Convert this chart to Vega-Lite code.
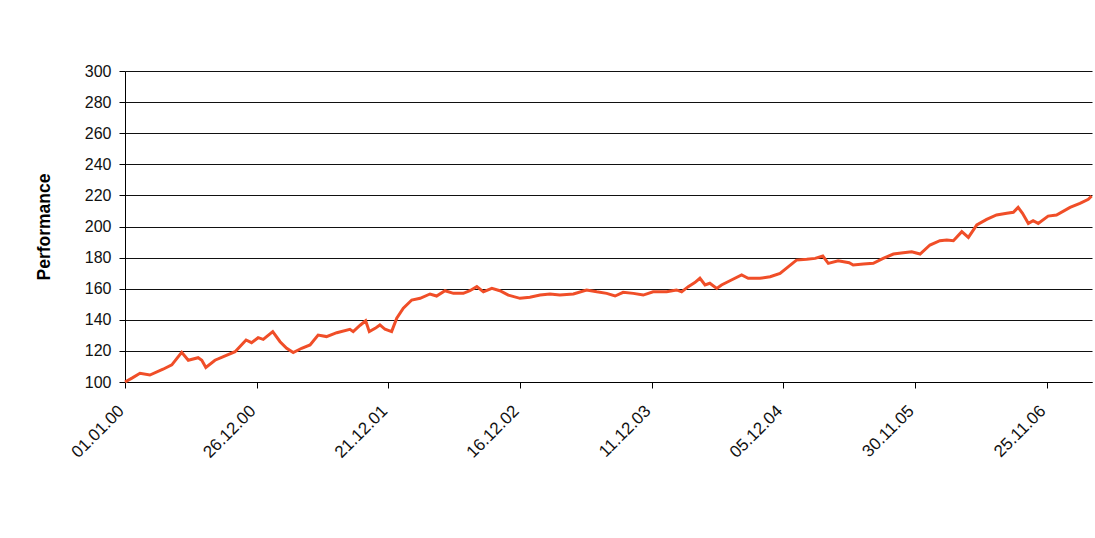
{
  "$schema": "https://vega.github.io/schema/vega-lite/v6.json",
  "width": 967,
  "height": 311,
  "autosize": {"type": "none"},
  "padding": {"left": 125, "top": 71, "right": 3, "bottom": 156},
  "background": "#ffffff",
  "config": {
    "view": {"stroke": null},
    "font": "Liberation Sans",
    "axis": {
      "labelFont": "Liberation Sans",
      "titleFont": "Liberation Sans",
      "labelColor": "#111111",
      "titleColor": "#000000",
      "domainColor": "#000000",
      "tickColor": "#000000",
      "gridColor": "#111111",
      "gridOpacity": 1,
      "domainWidth": 1,
      "tickWidth": 1,
      "gridWidth": 1
    }
  },
  "data": {
    "values": [
      {"date": "2000-01-01", "perf": 100.0},
      {"date": "2000-01-20", "perf": 102.5},
      {"date": "2000-02-11", "perf": 105.6},
      {"date": "2000-03-09", "perf": 104.5},
      {"date": "2000-04-14", "perf": 108.2},
      {"date": "2000-05-08", "perf": 111.0},
      {"date": "2000-06-04", "perf": 119.1},
      {"date": "2000-06-22", "perf": 114.0},
      {"date": "2000-07-19", "perf": 115.6},
      {"date": "2000-07-29", "perf": 114.0},
      {"date": "2000-08-09", "perf": 109.4},
      {"date": "2000-09-03", "perf": 114.0},
      {"date": "2000-09-26", "perf": 116.3},
      {"date": "2000-10-28", "perf": 119.5},
      {"date": "2000-11-27", "perf": 127.0},
      {"date": "2000-12-12", "perf": 125.3},
      {"date": "2000-12-30", "perf": 128.5},
      {"date": "2001-01-13", "perf": 127.4},
      {"date": "2001-02-08", "perf": 132.4},
      {"date": "2001-02-28", "perf": 125.9},
      {"date": "2001-03-18", "perf": 121.7},
      {"date": "2001-04-05", "perf": 118.9},
      {"date": "2001-04-28", "perf": 121.7},
      {"date": "2001-05-21", "perf": 123.8},
      {"date": "2001-06-12", "perf": 130.2},
      {"date": "2001-07-05", "perf": 129.2},
      {"date": "2001-08-02", "perf": 131.7},
      {"date": "2001-09-07", "perf": 133.9},
      {"date": "2001-09-16", "perf": 132.4},
      {"date": "2001-10-05", "perf": 136.5},
      {"date": "2001-10-20", "perf": 139.4},
      {"date": "2001-10-30", "perf": 132.4},
      {"date": "2001-11-15", "perf": 134.5},
      {"date": "2001-11-28", "perf": 136.7},
      {"date": "2001-12-12", "perf": 133.9},
      {"date": "2001-12-30", "perf": 132.4},
      {"date": "2002-01-13", "perf": 141.0},
      {"date": "2002-01-31", "perf": 147.4},
      {"date": "2002-02-23", "perf": 152.7},
      {"date": "2002-03-18", "perf": 153.8},
      {"date": "2002-04-14", "perf": 156.6},
      {"date": "2002-05-02", "perf": 155.3},
      {"date": "2002-05-25", "perf": 158.7},
      {"date": "2002-06-17", "perf": 157.0},
      {"date": "2002-07-14", "perf": 157.0},
      {"date": "2002-08-01", "perf": 158.7},
      {"date": "2002-08-20", "perf": 161.3},
      {"date": "2002-09-07", "perf": 158.0},
      {"date": "2002-09-30", "perf": 160.2},
      {"date": "2002-10-22", "perf": 158.7},
      {"date": "2002-11-14", "perf": 155.9},
      {"date": "2002-12-16", "perf": 153.8},
      {"date": "2003-01-12", "perf": 154.5},
      {"date": "2003-02-09", "perf": 155.9},
      {"date": "2003-03-08", "perf": 156.6},
      {"date": "2003-04-04", "perf": 155.9},
      {"date": "2003-05-11", "perf": 156.6},
      {"date": "2003-06-16", "perf": 159.2},
      {"date": "2003-07-14", "perf": 158.0},
      {"date": "2003-08-10", "perf": 157.0},
      {"date": "2003-09-02", "perf": 155.3},
      {"date": "2003-09-24", "perf": 157.7},
      {"date": "2003-10-22", "perf": 157.0},
      {"date": "2003-11-18", "perf": 155.9},
      {"date": "2003-12-15", "perf": 158.0},
      {"date": "2004-01-21", "perf": 158.0},
      {"date": "2004-02-17", "perf": 159.2},
      {"date": "2004-03-02", "perf": 158.0},
      {"date": "2004-03-20", "perf": 161.3},
      {"date": "2004-04-07", "perf": 163.9},
      {"date": "2004-04-21", "perf": 166.7},
      {"date": "2004-05-05", "perf": 162.4},
      {"date": "2004-05-18", "perf": 163.5},
      {"date": "2004-06-06", "perf": 160.2},
      {"date": "2004-06-19", "perf": 162.4},
      {"date": "2004-07-12", "perf": 165.1},
      {"date": "2004-08-13", "perf": 168.8},
      {"date": "2004-08-31", "perf": 166.7},
      {"date": "2004-10-02", "perf": 166.7},
      {"date": "2004-10-30", "perf": 167.7},
      {"date": "2004-11-26", "perf": 169.9},
      {"date": "2004-12-19", "perf": 174.2},
      {"date": "2005-01-10", "perf": 178.4},
      {"date": "2005-02-07", "perf": 178.9},
      {"date": "2005-03-02", "perf": 179.5},
      {"date": "2005-03-23", "perf": 181.0},
      {"date": "2005-04-07", "perf": 176.3},
      {"date": "2005-05-04", "perf": 178.0},
      {"date": "2005-06-03", "perf": 176.7},
      {"date": "2005-06-14", "perf": 175.2},
      {"date": "2005-07-12", "perf": 175.9},
      {"date": "2005-08-08", "perf": 176.3},
      {"date": "2005-09-04", "perf": 179.5},
      {"date": "2005-10-02", "perf": 182.3},
      {"date": "2005-10-29", "perf": 183.1},
      {"date": "2005-11-21", "perf": 183.8},
      {"date": "2005-12-14", "perf": 182.3},
      {"date": "2006-01-10", "perf": 188.1},
      {"date": "2006-02-06", "perf": 190.9},
      {"date": "2006-02-25", "perf": 191.3},
      {"date": "2006-03-15", "perf": 190.9},
      {"date": "2006-04-07", "perf": 196.7},
      {"date": "2006-04-25", "perf": 193.0},
      {"date": "2006-05-18", "perf": 201.0},
      {"date": "2006-06-14", "perf": 204.6},
      {"date": "2006-07-11", "perf": 207.4},
      {"date": "2006-08-08", "perf": 208.5},
      {"date": "2006-08-26", "perf": 209.1},
      {"date": "2006-09-08", "perf": 212.3},
      {"date": "2006-09-20", "perf": 208.5},
      {"date": "2006-10-06", "perf": 202.0},
      {"date": "2006-10-19", "perf": 203.7},
      {"date": "2006-11-02", "perf": 202.0},
      {"date": "2006-11-29", "perf": 206.7},
      {"date": "2006-12-22", "perf": 207.4},
      {"date": "2007-01-28", "perf": 212.3},
      {"date": "2007-02-24", "perf": 214.9},
      {"date": "2007-03-19", "perf": 217.5},
      {"date": "2007-03-28", "perf": 219.6}
    ]
  },
  "mark": {"type": "line", "color": "#F04E28", "strokeWidth": 3, "clip": false},
  "encoding": {
    "x": {
      "field": "date",
      "type": "temporal",
      "scale": {"type": "utc", "domain": [{"year": 2000, "month": 1, "date": 1, "utc": true}, {"year": 2007, "month": 3, "date": 29, "utc": true}], "nice": false},
      "axis": {
        "title": null,
        "grid": false,
        "values": [
          {"year": 2000, "month": 1, "date": 1, "utc": true},
          {"year": 2000, "month": 12, "date": 26, "utc": true},
          {"year": 2001, "month": 12, "date": 21, "utc": true},
          {"year": 2002, "month": 12, "date": 16, "utc": true},
          {"year": 2003, "month": 12, "date": 11, "utc": true},
          {"year": 2004, "month": 12, "date": 5, "utc": true},
          {"year": 2005, "month": 11, "date": 30, "utc": true},
          {"year": 2006, "month": 11, "date": 25, "utc": true}
        ],
        "format": "%d.%m.%y",
        "labelAngle": -45,
        "labelAlign": "right",
        "labelBaseline": "middle",
        "labelFontSize": 17,
        "tickSize": 6,
        "labelPadding": 20,
        "labelOffset": -4,
        "labelOverlap": false,
        "labelFlush": false
      }
    },
    "y": {
      "field": "perf",
      "type": "quantitative",
      "scale": {"domain": [100, 300], "nice": false, "zero": false},
      "axis": {
        "title": "Performance",
        "titleFontSize": 17.5,
        "titleFontWeight": "bold",
        "titlePadding": 31,
        "values": [100, 120, 140, 160, 180, 200, 220, 240, 260, 280, 300],
        "labelFontSize": 16,
        "tickSize": 6,
        "labelPadding": 8,
        "grid": true
      }
    }
  }
}
